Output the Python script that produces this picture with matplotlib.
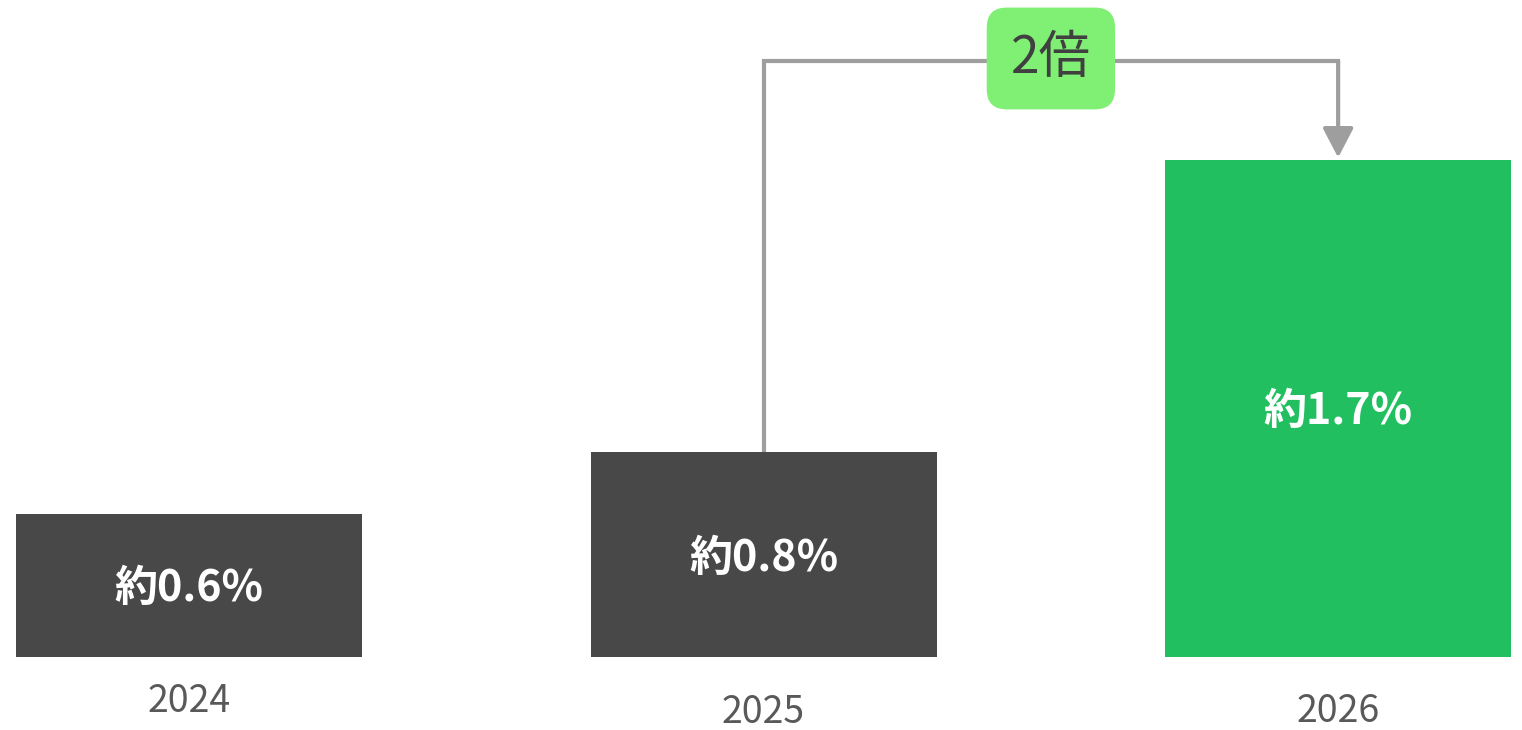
import matplotlib
matplotlib.use("Agg")
import matplotlib.pyplot as plt

plt.rcParams['font.family'] = ['Noto Sans CJK JP', 'DejaVu Sans']

# ---- data ----
years = ["2024", "2025", "2026"]
bar_heights = [0.49, 0.70, 1.70]          # visual heights as drawn
value_labels = ["約0.6%", "約0.8%", "約1.7%"]
bar_colors = ["#484848", "#484848", "#22BF61"]
year_label_y = [-0.152, -0.190, -0.186]
ratio_label = "2倍"

W, H = 1522, 730
fig = plt.figure(figsize=(W / 100, H / 100), dpi=100)
ax = fig.add_axes([0, 0, 1, 1])
ax.set_xlim(-0.329, 2.320)
ax.set_ylim(-0.2497, 2.247)
ax.axis("off")

x = list(range(len(years)))
ax.bar(x, bar_heights, width=0.602, color=bar_colors, zorder=2)

for xi, h, lab in zip(x, bar_heights, value_labels):
    ax.text(xi, h / 2 - 0.01, lab, ha="center", va="center", color="white",
            fontsize=31, fontweight="bold", zorder=3)

for xi, yl, yr in zip(x, year_label_y, years):
    ax.text(xi, yl, yr, ha="center", va="center", color="#595959",
            fontsize=27, zorder=3)

# connector from 2025 bar to 2026 bar
top_y = 2.038
line_color = "#9E9E9E"
ax.plot([x[1], x[1], x[2]], [bar_heights[1], top_y, top_y],
        color=line_color, lw=3, solid_joinstyle="miter", zorder=1)
ax.annotate("", xy=(x[2], bar_heights[2] + 0.008), xytext=(x[2], top_y),
            arrowprops=dict(arrowstyle="-|>,head_length=0.9,head_width=0.47",
                            color=line_color, lw=3, shrinkA=0, shrinkB=0,
                            mutation_scale=20), zorder=1)

ax.text((x[1] + x[2]) / 2, 2.047, ratio_label, ha="center", va="center",
        color="#404040", fontsize=37, zorder=4,
        bbox=dict(boxstyle="round,pad=0.47,rounding_size=0.39",
                  fc="#80F075", ec="none"))

fig.savefig("out.png", dpi=100)
